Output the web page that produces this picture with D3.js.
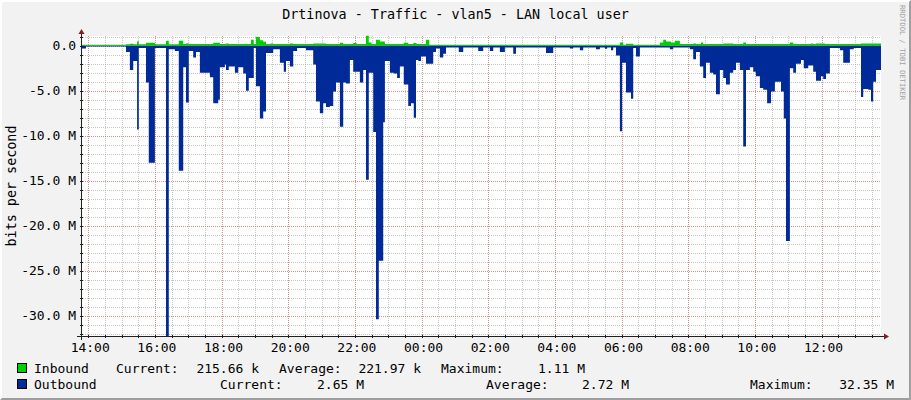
<!DOCTYPE html>
<html><head><meta charset="utf-8">
<script src="https://cdn.jsdelivr.net/npm/d3@7"></script>
<style>
body{margin:0;background:#f2f2f2}
svg text{font-family:"DejaVu Sans Mono",monospace;white-space:pre}
</style>
</head><body>
<svg id="c" width="911" height="400"></svg>
<script>
// ---------- data ----------
const title = "Drtinova - Traffic - vlan5 - LAN local user";
const yAxisTitle = "bits per second";
const watermark = "RRDTOOL / TOBI OETIKER";
const startClock = "13:47";               // window covers 24 h from here
const xTickLabels = ["14:00","16:00","18:00","20:00","22:00","00:00","02:00","04:00","06:00","08:00","10:00","12:00"];
const yTickValues = [0,-5,-10,-15,-20,-25,-30];          // M bits/s
const yTickLabels = ["0.0","-5.0 M","-10.0 M","-15.0 M","-20.0 M","-25.0 M","-30.0 M"];

// Outbound (M bits/s, plotted below zero) - value holds from each time
const outTimes = ["13:47","13:56","15:08","15:15","15:21","15:28","15:31","15:44","15:49","16:00",
 "16:20","16:25","16:36","16:43","16:51","16:56","17:01","17:09","17:14","17:21",
 "17:39","17:45","17:54","17:57","18:06","18:08","18:13","18:24","18:30","18:39",
 "18:44","18:49","18:58","19:02","19:09","19:15","19:20","19:33","19:45","19:52",
 "19:56","20:03","20:09","20:16","20:32","20:45","20:50","20:57","21:03","21:08",
 "21:15","21:21","21:26","21:33","21:39","21:44","21:51","21:57","22:09","22:15",
 "22:20","22:25","22:33","22:38","22:43","22:51","22:54","23:03","23:10","23:16",
 "23:21","23:28","23:36","23:41","23:46","23:50","23:54","23:59","00:08","00:21",
 "00:26","00:33","00:39","00:44","01:07","01:15","01:42","01:51","02:03","02:09",
 "02:21","02:30","02:45","02:50","03:44","03:57","04:27","04:33","04:45","04:51",
 "05:14","05:21","05:30","05:34","05:41","05:45","05:50","05:57","06:01","06:08",
 "06:17","06:21","06:26","06:33","07:27","07:33","08:03","08:09","08:14","08:21",
 "08:27","08:32","08:39","08:45","08:50","08:57","09:03","09:08","09:15","09:21",
 "09:26","09:33","09:39","09:44","09:51","09:57","10:02","10:09","10:15","10:22",
 "10:29","10:36","10:47","10:52","10:56","11:03","11:09","11:14","11:23","11:28",
 "11:36","11:45","11:50","11:59","12:03","12:08","12:15","12:33","12:39","12:51",
 "12:58","13:11","13:15","13:24","13:29","13:33","13:38"];
const outValues = [0.3,0.1,0.7,2.7,1.7,9.3,0.25,4.1,13.0,0.25,
 32.35,0.4,0.6,13.9,2.4,6.3,0.6,1.3,0.7,3.0,
 3.5,6.4,6.0,2.4,2.1,2.7,2.3,3.0,2.4,3.1,
 5.0,3.6,0.25,4.5,8.1,7.3,0.8,0.4,1.9,2.9,
 1.7,2.3,0.6,0.25,0.5,2.1,6.2,7.5,6.4,6.8,
 6.7,5.1,4.1,9.0,4.1,4.2,1.6,2.9,4.1,2.7,
 14.9,3.0,9.6,30.4,23.9,8.5,1.7,3.0,3.1,3.6,
 2.3,4.3,6.7,6.4,8.0,1.6,1.7,1.2,2.0,0.7,
 0.3,1.3,0.9,0.2,0.7,0.2,0.6,0.2,0.6,0.2,
 0.7,0.2,0.9,0.2,0.8,0.2,0.3,0.2,0.5,0.2,
 0.4,0.2,0.35,0.2,0.5,0.2,1.1,9.5,1.9,5.2,
 5.9,0.25,1.2,0.2,0.4,0.2,0.4,1.5,0.7,2.3,
 3.6,1.9,3.0,3.2,5.4,2.7,3.6,4.3,3.0,2.7,
 1.9,2.7,11.2,2.7,2.4,2.9,3.4,4.7,4.9,6.4,
 5.1,4.0,5.1,8.1,21.7,2.5,3.0,2.0,1.6,2.5,
 2.2,2.9,3.9,3.4,3.7,3.1,0.25,0.5,1.9,0.4,
 0.25,5.7,4.8,4.9,6.2,4.0,2.7];

// Inbound (M bits/s, plotted above zero)
const inTimes = ["13:47","15:08","15:15","15:21","15:28","15:31","15:44","16:00","16:20","16:25",
 "16:43","16:51","16:56","17:01","17:45","17:57","18:08","18:13","18:53","18:58",
 "19:02","19:09","19:15","19:20","19:28","19:33","20:03","20:09","20:45","21:08",
 "21:33","21:39","21:57","22:03","22:20","22:25","22:30","22:38","22:45","22:54",
 "23:28","23:36","23:45","23:51","00:08","00:14","05:57","06:03","06:08","06:21",
 "07:09","07:15","07:20","07:29","07:36","07:45","08:09","08:14","08:23","08:27",
 "09:03","09:21","09:39","09:44","11:03","11:09","11:41","11:45","11:50","12:06",
 "13:11"];
const inValues = [0.1,0.15,0.22,0.15,0.5,0.15,0.33,0.15,0.55,0.15,
 0.55,0.2,0.25,0.2,0.33,0.2,0.25,0.2,0.67,0.2,
 0.96,0.6,0.44,0.2,0.25,0.2,0.25,0.2,0.25,0.2,
 0.33,0.2,0.3,0.2,1.11,0.37,0.2,0.67,0.48,0.2,
 0.33,0.2,0.3,0.2,0.67,0.12,0.37,0.12,0.22,0.12,
 0.37,0.67,0.48,0.37,0.55,0.18,0.26,0.18,0.37,0.18,
 0.26,0.2,0.37,0.2,0.37,0.2,0.26,0.2,0.26,0.2,
 0.26];

// legend
const legendRows = [
  {name:"Inbound",  color:"#00CF00", items:[["Current:","215.66 k"],["Average:","221.97 k"],["Maximum:","1.11 M"]]},
  {name:"Outbound", color:"#002A97", items:[["Current:","2.65 M"],["Average:","2.72 M"],["Maximum:","32.35 M"]]}
];

// ---------- helpers ----------
const base = new Date(2000,0,1,0,0);
function toDate(clock){
  const [h,m] = clock.split(":").map(Number);
  const [sh,sm] = startClock.split(":").map(Number);
  let mins = h*60+m;
  if (mins < sh*60+sm) mins += 1440;
  return new Date(base.getTime() + mins*60000);
}
const t0 = toDate(startClock);
const t1 = new Date(t0.getTime() + 1440*60000);

// ---------- layout ----------
const W = 911, H = 400;
const L = 81, R = 881, T = 36, B = 336;
const svg = d3.select("#c");

// background + frame shading
svg.append("rect").attr("width",W).attr("height",H).attr("fill","#f2f2f2");
svg.append("path").attr("d",`M0.5,${H-0.5}V0.5H${W-0.5}`).attr("fill","none").attr("stroke","#ffffff");
svg.append("path").attr("d",`M1.5,${H-1.5}V1.5H${W-1.5}`).attr("fill","none").attr("stroke","#ffffff");
svg.append("path").attr("d",`M0.5,${H-0.5}H${W-0.5}V0.5`).attr("fill","none").attr("stroke","#9e9e9e");
svg.append("path").attr("d",`M1.5,${H-1.5}H${W-1.5}V1.5`).attr("fill","none").attr("stroke","#9e9e9e");

const x = d3.scaleTime().domain([t0,t1]).range([L,R]);
const y = d3.scaleLinear().domain([-32.26,1.08]).range([B,T]);

// canvas
svg.append("rect").attr("x",L).attr("y",T).attr("width",R-L).attr("height",B-T).attr("fill","#ffffff");

// grid
const g = svg.append("g");
const minorX = d3.timeMinute.every(30).range(t0,t1);
const minorY = d3.range(-32,2,1);
g.selectAll(".mx").data(minorX).join("line")
  .attr("x1",d=>Math.round(x(d))+0.5).attr("x2",d=>Math.round(x(d))+0.5)
  .attr("y1",T).attr("y2",B)
  .attr("stroke","#8f8f8f").attr("stroke-opacity",0.5).attr("stroke-dasharray","1,1");
g.selectAll(".my").data(minorY).join("line")
  .attr("y1",d=>Math.round(y(d))+0.5).attr("y2",d=>Math.round(y(d))+0.5)
  .attr("x1",L).attr("x2",R)
  .attr("stroke","#8f8f8f").attr("stroke-opacity",0.5).attr("stroke-dasharray","1,1");
const majorX = xTickLabels.map(toDate);
g.selectAll(".Mx").data(majorX).join("line")
  .attr("x1",d=>Math.round(x(d))+0.5).attr("x2",d=>Math.round(x(d))+0.5)
  .attr("y1",T).attr("y2",B)
  .attr("stroke","#de5050").attr("stroke-opacity",0.45).attr("stroke-dasharray","1,1");
g.selectAll(".My").data(yTickValues).join("line")
  .attr("y1",d=>Math.round(y(d))+0.5).attr("y2",d=>Math.round(y(d))+0.5)
  .attr("x1",L).attr("x2",R)
  .attr("stroke","#de5050").attr("stroke-opacity",0.45).attr("stroke-dasharray","1,1");

// series
function series(times, values){
  const pts = times.map((t,i)=>({t:toDate(t), v:values[i]}));
  pts.push({t:t1, v:values[values.length-1]});
  return pts;
}
const inData = series(inTimes, inValues);
const outData = series(outTimes, outValues);

svg.append("clipPath").attr("id","clip").append("rect")
  .attr("x",L).attr("y",T-5).attr("width",R-L).attr("height",B-T+5);

const plot = svg.append("g").attr("clip-path","url(#clip)");
plot.append("path").datum(inData)
  .attr("d", d3.area().curve(d3.curveStepAfter).x(d=>x(d.t)).y0(y(0)).y1(d=>y(d.v)))
  .attr("fill","#00CF00");
plot.append("path").datum(outData)
  .attr("d", d3.area().curve(d3.curveStepAfter).x(d=>x(d.t)).y0(y(0)).y1(d=>y(-d.v)))
  .attr("fill","#002A97");

// axes
const axisCol = "#202020";
svg.append("line").attr("x1",L-4).attr("x2",R+4).attr("y1",B+0.5).attr("y2",B+0.5).attr("stroke",axisCol);
svg.append("line").attr("x1",L+0.5).attr("x2",L+0.5).attr("y1",B+4).attr("y2",T-4).attr("stroke",axisCol);
// tick marks
svg.selectAll(".tx").data(minorX).join("line")
  .attr("x1",d=>Math.round(x(d))+0.5).attr("x2",d=>Math.round(x(d))+0.5)
  .attr("y1",B-1).attr("y2",B+2).attr("stroke",axisCol);
svg.selectAll(".ty").data(minorY).join("line")
  .attr("y1",d=>Math.round(y(d))+0.5).attr("y2",d=>Math.round(y(d))+0.5)
  .attr("x1",L-1).attr("x2",L+2).attr("stroke",axisCol);
// arrows
svg.append("path").attr("d",`M${R+3},${B-2.5}L${R+8},${B+0.5}L${R+3},${B+3.5}Z`).attr("fill","#802020");
svg.append("path").attr("d",`M${L-2.5},${T-2}L${L+0.5},${T-7}L${L+3.5},${T-2}Z`).attr("fill","#802020");

// axis labels
svg.selectAll(".xl").data(xTickLabels).join("text")
  .attr("x",d=>x(toDate(d))+2).attr("y",B+16)
  .attr("text-anchor","middle").attr("font-size",13).attr("fill","#000").text(d=>d);
svg.selectAll(".yl").data(yTickValues).join("text")
  .attr("x",L-5).attr("y",d=>y(d)+4.5)
  .attr("text-anchor","end").attr("font-size",13).attr("fill","#000")
  .text((d,i)=>yTickLabels[i]);

// title
svg.append("text").attr("x",W/2).attr("y",19).attr("text-anchor","middle")
  .attr("font-size",13.4).attr("fill","#000").text(title);
// y axis title
svg.append("text").attr("transform",`translate(16,${(T+B)/2}) rotate(-90)`)
  .attr("text-anchor","middle").attr("font-size",13.4).attr("fill","#000").text(yAxisTitle);
// watermark
svg.append("text").attr("transform",`translate(900,5) rotate(90)`)
  .attr("font-size",7.2).attr("fill","#a0a0a0").text(watermark);

// legend
const row1 = [34,116,188,279,358,441,538];
const row2 = [34,220,316,486,581,750,846];
legendRows.forEach((r,i)=>{
  const yy = 373 + i*16;
  svg.append("rect").attr("x",17.5).attr("y",yy-9.5).attr("width",9).attr("height",9)
    .attr("fill",r.color).attr("stroke","#000").attr("stroke-width",1);
  const pos = i===0 ? row1 : row2;
  const texts = [r.name].concat(...r.items);
  texts.forEach((t,j)=>{
    const right = j%2===0 && j>0;
    svg.append("text").attr("x", right ? pos[j]+ (i===0? (j===2?71:j===4?63:47) : 48) : pos[j])
      .attr("y",yy).attr("font-size",13).attr("fill","#000")
      .attr("text-anchor", right ? "end":"start").text(t);
  });
});
</script>
</body></html>
